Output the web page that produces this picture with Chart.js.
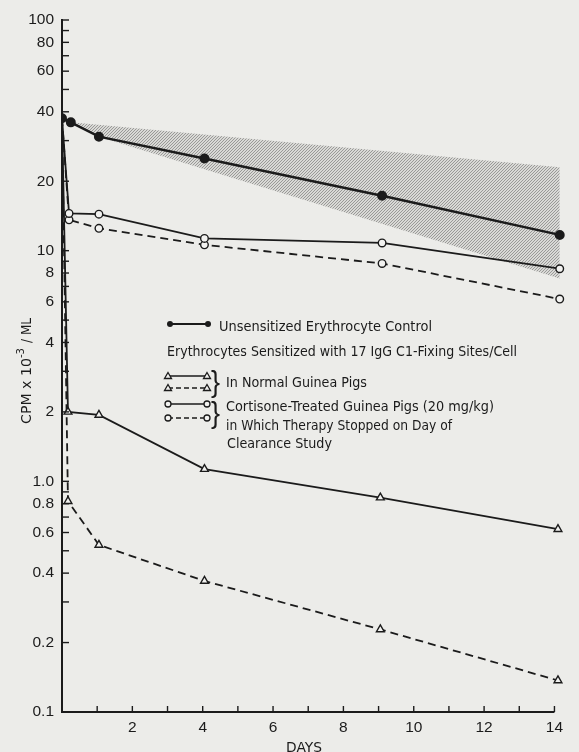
<!DOCTYPE html>
<html>
<head>
<meta charset="utf-8">
<script src="https://cdn.jsdelivr.net/npm/chart.js@4.4.1/dist/chart.umd.min.js"></script>
<style>
  html, body { margin: 0; padding: 0; background: #ecece9; }
  canvas { display: block; }
</style>
</head>
<body>
<canvas id="clearance" width="579" height="752"></canvas>
<script>
// days after injection / CPM x 10^-3 per ml
const controlDays = [0, 0.25, 1.05, 4.05, 9.1, 14.15];
const controlCpm = [37.5, 36, 31.2, 25.1, 17.3, 11.7];

const normalDays = [0, 0.17, 1.05, 4.05, 9.05, 14.1];
const normalSolid = [37.5, 2.0, 1.94, 1.13, 0.85, 0.62];
const normalDashed = [37.5, 0.82, 0.53, 0.37, 0.228, 0.137];

const cortisoneDays = [0, 0.2, 1.05, 4.05, 9.1, 14.15];
const cortisoneSolid = [37.5, 14.5, 14.4, 11.3, 10.8, 8.35];
const cortisoneDashed = [37.5, 13.6, 12.5, 10.6, 8.8, 6.17];

// shaded range of the control
const bandTopDays = [0.25, 14.15];
const bandTop = [36, 23];
const bandLowDays = [0.25, 1.05, 14.15];
const bandLow = [36, 31.2, 7.57];

const xTicks = [1, 2, 3, 4, 5, 6, 7, 8, 9, 10, 11, 12, 13, 14];
const xLabels = ['2', '4', '6', '8', '10', '12', '14'];
const yTicks = [0.1, 0.2, 0.3, 0.4, 0.5, 0.6, 0.7, 0.8, 0.9,
                1, 2, 3, 4, 5, 6, 7, 8, 9,
                10, 20, 30, 40, 50, 60, 70, 80, 90, 100];
const yLabels = {'0.1': '0.1', '0.2': '0.2', '0.4': '0.4', '0.6': '0.6', '0.8': '0.8',
                 '1': '1.0', '2': '2', '4': '4', '6': '6', '8': '8',
                 '10': '10', '20': '20', '40': '40', '60': '60', '80': '80', '100': '100'};

const INK = '#1b1b1b';
const PAPER = '#f2f2f0';
const FONT = '"Liberation Sans", Arial, sans-serif';
const LFONT = '"DejaVu Sans", sans-serif';

const toPts = (xs, ys) => xs.map((x, i) => ({x: x, y: ys[i]}));

// stipple for the band
const makeStipple = () => {
    const c = document.createElement('canvas');
    c.width = 3; c.height = 3;
    const g = c.getContext('2d');
    g.fillStyle = '#d9d9d6'; g.fillRect(0, 0, 3, 3);
    g.fillStyle = '#999997';
    g.fillRect(0, 0, 1, 1); g.fillRect(1, 2, 1, 1); g.fillRect(2, 1, 1, 1);
    return g.createPattern(c, 'repeat');
};

const hideFirst = r => [0, r, r, r, r, r];

const fitText = (ctx, str, x, y, w) => {
    const m = ctx.measureText(str).width;
    ctx.save();
    ctx.translate(x, y);
    ctx.scale(w / m, 1);
    ctx.fillText(str, 0, 0);
    ctx.restore();
};

const sample = (ctx, x1, x2, y, dashed, style) => {
    ctx.save();
    ctx.strokeStyle = INK;
    ctx.lineWidth = style === 'dot' ? 2.2 : 1.5;
    ctx.setLineDash(dashed ? [5, 3] : []);
    ctx.beginPath(); ctx.moveTo(x1, y); ctx.lineTo(x2, y); ctx.stroke();
    ctx.setLineDash([]);
    [x1, x2].forEach(x => {
        ctx.beginPath();
        if (style === 'dot') {
            ctx.fillStyle = INK;
            ctx.arc(x, y, 3, 0, Math.PI * 2); ctx.fill();
        } else if (style === 'circle') {
            ctx.fillStyle = PAPER;
            ctx.lineWidth = 1.3;
            ctx.arc(x, y, 3, 0, Math.PI * 2); ctx.fill(); ctx.stroke();
        } else {
            ctx.fillStyle = PAPER;
            ctx.lineWidth = 1.3;
            ctx.moveTo(x, y - 3.5); ctx.lineTo(x + 3.5, y + 2.5); ctx.lineTo(x - 3.5, y + 2.5);
            ctx.closePath(); ctx.fill(); ctx.stroke();
        }
    });
    ctx.restore();
};

const decorations = {
    id: 'decorations',
    afterDraw(chart) {
        const ctx = chart.ctx;
        const xs = chart.scales.x, ys = chart.scales.y;
        const left = chart.chartArea.left, bottom = chart.chartArea.bottom;
        ctx.save();
        ctx.strokeStyle = INK;
        // x axis line up to day 14 and inward ticks
        ctx.lineWidth = 2;
        ctx.beginPath(); ctx.moveTo(left - 1, bottom); ctx.lineTo(xs.getPixelForValue(14), bottom); ctx.stroke();
        ctx.lineWidth = 1.4;
        xTicks.forEach(v => {
            const p = xs.getPixelForValue(v);
            ctx.beginPath(); ctx.moveTo(p, bottom); ctx.lineTo(p, bottom - 6); ctx.stroke();
        });
        yTicks.forEach(v => {
            const p = ys.getPixelForValue(v);
            ctx.beginPath(); ctx.moveTo(left, p); ctx.lineTo(left + 7, p); ctx.stroke();
        });

        // axis titles
        ctx.fillStyle = INK;
        ctx.font = '14px ' + LFONT;
        ctx.textAlign = 'left';
        ctx.textBaseline = 'alphabetic';
        fitText(ctx, 'DAYS', 286, 752, 36);
        ctx.save();
        ctx.translate(31, 424);
        ctx.rotate(-Math.PI / 2);
        ctx.font = '14px ' + LFONT;
        fitText(ctx, 'CPM x 10', 0, 0, 66);
        ctx.font = '10px ' + LFONT;
        fitText(ctx, '-3', 66, -7, 10);
        ctx.font = '14px ' + LFONT;
        fitText(ctx, '/ ML', 81, 0, 25);
        ctx.restore();

        // legend
        ctx.textAlign = 'left';
        ctx.font = '14.5px ' + LFONT;
        sample(ctx, 170, 208, 324, false, 'dot');
        fitText(ctx, 'Unsensitized Erythrocyte Control', 219, 331, 213);
        fitText(ctx, 'Erythrocytes Sensitized with 17 IgG C1-Fixing Sites/Cell', 167, 356, 350);
        sample(ctx, 168, 207, 376, false, 'tri');
        sample(ctx, 168, 207, 388, true, 'tri');
        fitText(ctx, 'In Normal Guinea Pigs', 226, 387, 141);
        sample(ctx, 168, 207, 404, false, 'circle');
        sample(ctx, 168, 207, 418, true, 'circle');
        fitText(ctx, 'Cortisone-Treated Guinea Pigs (20 mg/kg)', 226, 411, 268);
        fitText(ctx, 'in Which Therapy Stopped on Day of', 226, 430, 226);
        fitText(ctx, 'Clearance Study', 227, 448, 105);
        ctx.font = '30px ' + FONT;
        fitText(ctx, '}', 211, 392, 9);
        fitText(ctx, '}', 211, 423, 9);
        ctx.restore();
    }
};

const ctx = document.getElementById('clearance').getContext('2d');
new Chart(ctx, {
    type: 'scatter',
    data: {
        datasets: [
            {
                data: toPts(controlDays, controlCpm),
                showLine: true, borderColor: INK, borderWidth: 2.4,
                pointRadius: 3.8, pointBackgroundColor: INK, pointBorderColor: INK
            },
            {
                data: toPts(cortisoneDays, cortisoneSolid),
                showLine: true, borderColor: INK, borderWidth: 1.8,
                pointStyle: 'circle', pointRadius: hideFirst(3.8), pointBorderWidth: 1.4,
                pointBackgroundColor: PAPER, pointBorderColor: INK
            },
            {
                data: toPts(cortisoneDays, cortisoneDashed),
                showLine: true, borderColor: INK, borderWidth: 1.8, borderDash: [8, 5],
                pointStyle: 'circle', pointRadius: hideFirst(3.8), pointBorderWidth: 1.4,
                pointBackgroundColor: PAPER, pointBorderColor: INK
            },
            {
                data: toPts(normalDays, normalSolid),
                showLine: true, borderColor: INK, borderWidth: 1.8,
                pointStyle: 'triangle', pointRadius: hideFirst(4.5), pointBorderWidth: 1.4,
                pointBackgroundColor: PAPER, pointBorderColor: INK
            },
            {
                data: toPts(normalDays, normalDashed),
                showLine: true, borderColor: INK, borderWidth: 1.8, borderDash: [8, 5],
                pointStyle: 'triangle', pointRadius: hideFirst(4.5), pointBorderWidth: 1.4,
                pointBackgroundColor: PAPER, pointBorderColor: INK
            },
            {
                data: toPts(bandTopDays, bandTop),
                showLine: true, borderWidth: 0, pointRadius: 0,
                fill: '+1', backgroundColor: makeStipple()
            },
            {
                data: toPts(bandLowDays, bandLow),
                showLine: true, borderWidth: 0, pointRadius: 0, fill: false
            }
        ]
    },
    options: {
        responsive: false,
        animation: false,
        devicePixelRatio: 1,
        layout: { padding: { top: 20, right: 14, left: 0, bottom: 0 } },
        plugins: { legend: { display: false }, tooltip: { enabled: false } },
        scales: {
            x: {
                type: 'linear', min: 0, max: 14.3,
                afterFit: s => { s.height = 40; },
                afterBuildTicks: s => { s.ticks = xTicks.map(v => ({value: v})); },
                grid: { display: false, drawTicks: false },
                border: { display: false },
                ticks: {
                    autoSkip: false, maxRotation: 0, padding: 6, color: INK,
                    font: { family: FONT, size: 15.5 },
                    callback: v => xLabels.includes(String(v)) ? String(v) : ''
                }
            },
            y: {
                type: 'logarithmic', min: 0.1, max: 100,
                afterFit: s => { s.width = 62; },
                afterBuildTicks: s => { s.ticks = yTicks.map(v => ({value: v})); },
                grid: { display: false, drawTicks: false },
                border: { display: true, color: INK, width: 2 },
                ticks: {
                    autoSkip: false, padding: 8, color: INK,
                    font: { family: FONT, size: 15.5 },
                    callback: v => yLabels[String(v)] || ''
                }
            }
        }
    },
    plugins: [decorations]
});
</script>
</body>
</html>
